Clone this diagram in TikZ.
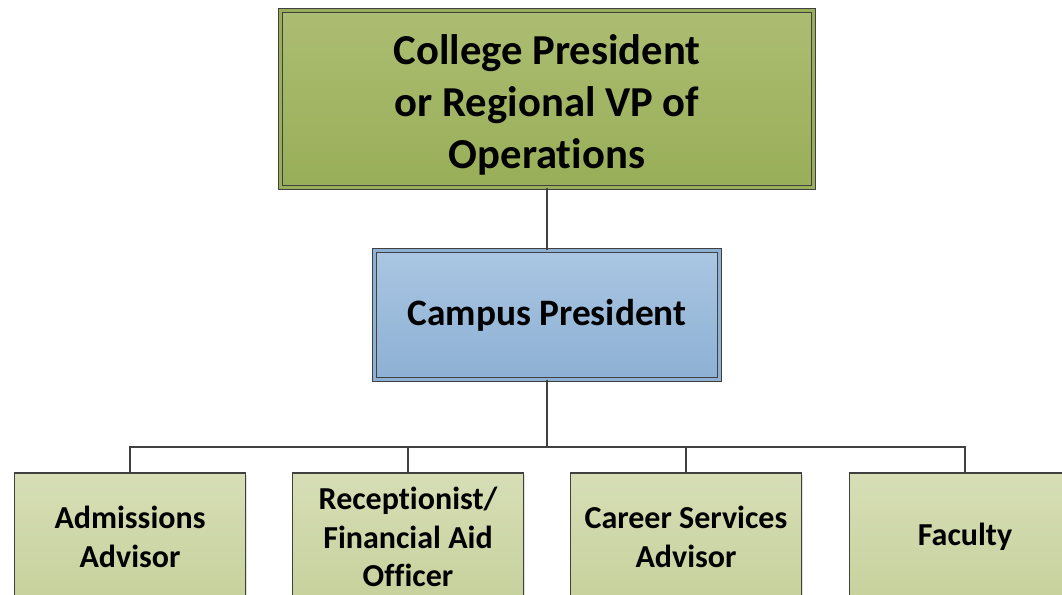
\documentclass[tikz,border=0pt]{standalone}
\usepackage{fontspec}
\setmainfont{Carlito}[Ligatures=NoCommon]
\usetikzlibrary{shadows}
\definecolor{orgline}{RGB}{64, 64, 64}
\definecolor{olivetop}{RGB}{172, 189, 114}
\definecolor{olivebot}{RGB}{153, 174, 88}
\definecolor{skytop}{RGB}{170, 198, 226}
\definecolor{skybot}{RGB}{141, 176, 212}
\definecolor{sagetop}{RGB}{215, 222, 182}
\definecolor{sagebot}{RGB}{199, 209, 156}

\begin{document}
\begin{tikzpicture}[x=0.75pt, y=0.75pt,
    conn/.style={draw=orgline, line width=1.3pt},
    shade/.style={drop shadow={shadow xshift=1.5pt, shadow yshift=-1.5pt, opacity=0.25}},
    topbox/.style={shade, draw=orgline, line width=0.9pt, double=olivebot, double distance=2pt,
        top color=olivetop, bottom color=olivebot, minimum width=400pt, minimum height=133pt,
        align=center, font=\bfseries\fontsize{32}{38.8}\selectfont},
    midbox/.style={shade, draw=orgline, line width=0.9pt, double=skybot, double distance=2pt,
        top color=skytop, bottom color=skybot, minimum width=259pt, minimum height=97pt,
        align=center, font=\bfseries\fontsize{28}{32}\selectfont},
    staffbox/.style={shade, draw=orgline, line width=1.1pt,
        top color=sagetop, bottom color=sagebot, minimum width=173pt, minimum height=96pt,
        align=center, font=\bfseries\fontsize{24}{28.8}\selectfont}]
        \clip (0,0) rectangle (1062,595);
        \fill[white] (0,0) rectangle (1062,595);

        % Top level
        \node[topbox] (pres) at (547,496) {\rule{0pt}{31pt}College President\\or Regional VP of\\Operations};

        % Campus
        \node[midbox] (campus) at (547,280) {Campus President};

        % Staff
        \node[staffbox] (admit) at (130,58) {Admissions\\Advisor};
        \node[staffbox] (recep) at (408,58) {Receptionist/\\Financial Aid\\Officer};
        \node[staffbox] (career) at (686,58) {Career Services\\Advisor};
        \node[staffbox] (faculty) at (965,58) {Faculty};

        % Lines
        \coordinate (bus) at (547,148);
        \draw[conn] (pres.south) -- (campus.north);
        \draw[conn] (campus.south) -- (bus);
        \foreach \n in {admit,recep,career,faculty}
            \draw[conn] (bus) -| (\n.north);
    \end{tikzpicture}
\end{document}
